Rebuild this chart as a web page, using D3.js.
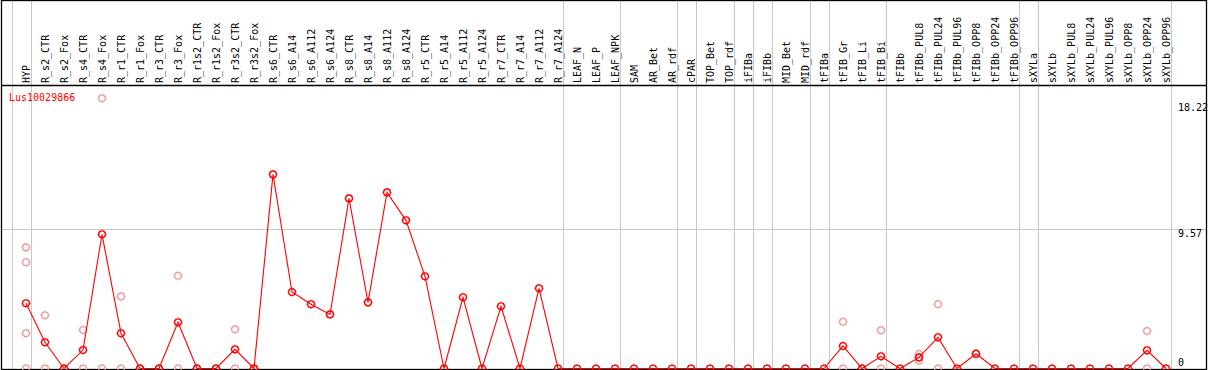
<!DOCTYPE html>
<html>
<head>
<meta charset="utf-8">
<script src="https://cdn.jsdelivr.net/npm/d3@7"></script>
<style>
  body { margin: 0; background: #fff; }
  svg { display: block; }
  text { font-family: "DejaVu Sans Mono", monospace; font-size: 10px; }
</style>
</head>
<body>
<div id="chart"></div>
<script>
const geneName = "Lus10029866"

const categories = ["HYP", "R_s2_CTR", "R_s2_Fox", "R_s4_CTR", "R_s4_Fox", "R_r1_CTR", "R_r1_Fox",
  "R_r3_CTR", "R_r3_Fox", "R_r1s2_CTR", "R_r1s2_Fox", "R_r3s2_CTR", "R_r3s2_Fox",
  "R_s6_CTR", "R_s6_A14", "R_s6_A112", "R_s6_A124", "R_s8_CTR", "R_s8_A14", "R_s8_A112", "R_s8_A124",
  "R_r5_CTR", "R_r5_A14", "R_r5_A112", "R_r5_A124", "R_r7_CTR", "R_r7_A14", "R_r7_A112", "R_r7_A124",
  "LEAF_N", "LEAF_P", "LEAF_NPK", "SAM", "AR_Bet", "AR_rdf", "cPAR", "TOP_Bet", "TOP_rdf",
  "iFIBa", "iFIBb", "MID_Bet", "MID_rdf", "tFIBa", "tFIB_Gr", "tFIB_Li", "tFIB_Bi",
  "tFIBb", "tFIBb_PUL8", "tFIBb_PUL24", "tFIBb_PUL96", "tFIBb_OPP8", "tFIBb_OPP24", "tFIBb_OPP96",
  "sXYLa", "sXYLb", "sXYLb_PUL8", "sXYLb_PUL24", "sXYLb_PUL96", "sXYLb_OPP8", "sXYLb_OPP24", "sXYLb_OPP96"]

// mean expression per sample
const meanValues = [4.46, 1.79, 0, 1.26, 9.17, 2.41, 0, 0, 3.16, 0, 0, 1.31, 0,
  13.27, 5.23, 4.39, 3.70, 11.63, 4.52, 12.04, 10.13,
  6.30, 0, 4.87, 0, 4.25, 0, 5.48, 0,
  0, 0, 0, 0, 0, 0, 0, 0, 0,
  0, 0, 0, 0, 0, 1.54, 0, 0.83,
  0, 0.76, 2.13, 0, 1.01, 0, 0,
  0, 0, 0, 0, 0, 0, 1.24, 0]

// individual replicates (sample name -> values)
const replicateSamples = ["HYP", "R_s2_CTR", "R_s2_Fox", "R_s4_CTR", "R_s4_Fox", "R_r1_CTR", "R_r1_Fox",
  "R_r3_CTR", "R_r3_Fox", "R_r1s2_CTR", "R_r1s2_Fox", "R_r3s2_CTR", "R_r3s2_Fox",
  "tFIB_Gr", "tFIB_Li", "tFIB_Bi", "tFIBb_PUL8", "tFIBb_PUL24", "tFIBb_OPP8", "sXYLb_OPP24"]
const replicateValues = [[8.28, 7.26, 2.41, 0], [3.64, 0], [0, 0], [2.63, 0], [18.47, 0], [4.93, 0], [0, 0],
  [0, 0], [6.34, 0], [0, 0], [0, 0], [2.68, 0], [0, 0],
  [3.20, 0], [0, 0], [2.61, 0], [0.99, 0.53], [4.39, 0], [1.01, 1.0], [2.56, 0]]

// last sample of each group ("" = left edge)
const groupEnds = ["", "HYP", "R_r7_A124", "LEAF_NPK", "AR_rdf", "cPAR", "TOP_rdf", "iFIBa", "iFIBb",
  "MID_rdf", "tFIBa", "tFIB_Bi", "tFIBb_OPP96", "sXYLa", "sXYLb_OPP96"]

const yTicks = [0, 9.57, 18.22]

document.addEventListener("DOMContentLoaded", draw)

function draw(){
    const width = 1209
    const height = 370
    const headerBottom = 85.5
    const plotBottom = 369.5
    const right = 1206.5

    const svg = d3.select("#chart").append("svg")
        .attr("width", width)
        .attr("height", height)

    const x = d3.scalePoint()
        .domain(categories)
        .range([26, 1166])
    const step = x.step()

    const y = d3.scaleLinear()
        .domain([0, 18.22])
        .range([368.5, 102])

    // group separators
    const sepX = d => (d === "" ? x(categories[0]) - step : x(d)) + 4.7
    svg.append("g")
        .selectAll("line")
        .data(groupEnds)
        .enter()
        .append("line")
        .attr("x1", d => Math.round(sepX(d)) + 0.5)
        .attr("x2", d => Math.round(sepX(d)) + 0.5)
        .attr("y1", 0)
        .attr("y2", plotBottom)
        .attr("stroke", "#c8c8c8")
        .attr("stroke-width", 1)

    // mid grid line
    svg.append("line")
        .attr("x1", 1.5)
        .attr("x2", right)
        .attr("y1", Math.round(y(9.57)) + 0.5)
        .attr("y2", Math.round(y(9.57)) + 0.5)
        .attr("stroke", "#c8c8c8")

    // frame
    const frame = svg.append("g").attr("stroke", "#000").attr("stroke-width", 1.3).attr("fill", "none")
    frame.append("rect")
        .attr("x", 1.5).attr("y", 0.5)
        .attr("width", right - 1.5).attr("height", plotBottom - 0.5)
    frame.append("line")
        .attr("x1", 1.5).attr("x2", right)
        .attr("y1", headerBottom).attr("y2", headerBottom)

    // column labels
    svg.append("g")
        .selectAll("text")
        .data(categories)
        .enter()
        .append("text")
        .attr("transform", d => "translate(" + (x(d) + 3.5) + ",83) rotate(-90)")
        .attr("fill", "#000")
        .text(d => d)

    // right value labels
    svg.append("g")
        .selectAll("text")
        .data(yTicks)
        .enter()
        .append("text")
        .attr("x", 1178)
        .attr("y", d => d === 0 ? 366 : y(d) + 8.5)
        .attr("fill", "#000")
        .text(d => d)

    svg.append("text")
        .attr("x", 9)
        .attr("y", 100.5)
        .attr("fill", "red")
        .text(geneName)

    // replicate points
    const reps = []
    replicateSamples.forEach((s, i) => {
        replicateValues[i].forEach(v => reps.push({s: s, v: v}))
    })
    const repG = svg.append("g")
        .selectAll("g")
        .data(reps)
        .enter()
        .append("g")
        .attr("transform", d => "translate(" + x(d.s) + "," + y(d.v) + ")")
    drawMarker(repG, "#ef9b9b")

    // mean line
    const line = d3.line()
        .x((d, i) => x(categories[i]))
        .y(d => y(d))
    svg.append("path")
        .datum(meanValues)
        .attr("d", line)
        .attr("fill", "none")
        .attr("stroke", "red")
        .attr("stroke-width", 1.1)

    const meanG = svg.append("g")
        .selectAll("g")
        .data(meanValues)
        .enter()
        .append("g")
        .attr("transform", (d, i) => "translate(" + x(categories[i]) + "," + y(d) + ")")
    drawMarker(meanG, "red")
}

function drawMarker(sel, color){
    sel.append("circle")
        .attr("r", 3.4)
        .attr("fill", "none")
        .attr("stroke", color)
        .attr("stroke-width", 1.3)
    sel.append("path")
        .attr("d", "M0,-4.6V-3.8M0,3.8V4.6M-4.6,0H-3.8M3.8,0H4.6")
        .attr("stroke", color)
        .attr("stroke-width", 0.9)
}
</script>
</body>
</html>
